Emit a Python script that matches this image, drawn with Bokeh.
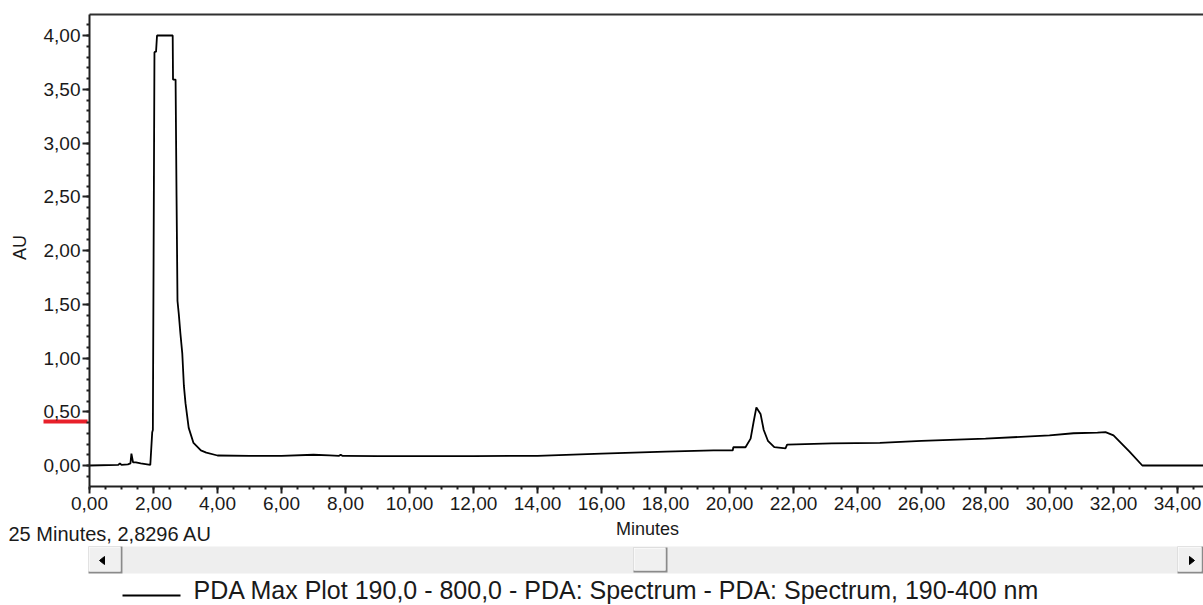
import math
from bokeh.plotting import figure
from bokeh.models import (Range1d, FixedTicker, CustomJSTickFormatter,
                          LinearAxis)
from bokeh.core.properties import value
from bokeh.embed import file_html
from bokeh.resources import INLINE

# PDA max-plot chromatogram: retention time (min) vs absorbance (AU)
time_min = [0.0, 0.9, 0.95, 1.0, 1.2, 1.28, 1.31, 1.36, 1.45, 1.6, 1.7, 1.9,
            1.96, 1.98, 2.03, 2.08, 2.11, 2.6, 2.61, 2.69, 2.72, 2.75, 2.79,
            2.84, 2.9, 2.95, 3.0, 3.1, 3.25, 3.48, 3.65, 4.0, 5.0, 6.0, 7.0,
            7.5, 7.8, 7.85, 7.9, 8.0, 9.0, 12.0, 14.0, 16.0, 18.0, 19.5, 20.1,
            20.12, 20.5, 20.66, 20.75, 20.84, 20.97, 21.07, 21.2, 21.4, 21.75,
            21.8, 23.2, 24.7, 26.0, 28.0, 30.0, 30.75, 31.5, 31.75, 32.0,
            32.5, 32.9, 33.5, 35.0]
absorbance = [0.0, 0.005, 0.02, 0.005, 0.01, 0.02, 0.11, 0.03, 0.03, 0.02,
              0.015, 0.005, 0.31, 0.33, 3.845, 3.85, 4.0, 4.0, 3.59, 3.59,
              2.5, 1.53, 1.41, 1.23, 1.04, 0.74, 0.58, 0.35, 0.21, 0.14,
              0.12, 0.093, 0.09, 0.09, 0.1, 0.095, 0.09, 0.1, 0.09, 0.09,
              0.088, 0.088, 0.09, 0.11, 0.13, 0.14, 0.14, 0.17, 0.17, 0.25,
              0.4, 0.54, 0.48, 0.33, 0.23, 0.17, 0.16, 0.195, 0.205, 0.21,
              0.23, 0.25, 0.28, 0.3, 0.305, 0.31, 0.28, 0.13, 0.0, 0.0, 0.0]

x_ticks = [0, 2, 4, 6, 8, 10, 12, 14, 16, 18, 20, 22, 24, 26, 28, 30, 32, 34]
y_ticks = [0.0, 0.5, 1.0, 1.5, 2.0, 2.5, 3.0, 3.5, 4.0]
x_view = (0.0, 34.81)
y_view = (-0.195, 4.195)
marker_level = 0.41
x_title = "Minutes"
y_title = "AU"
cursor_text = "25 Minutes, 2,8296 AU"
legend_text = "PDA Max Plot 190,0 - 800,0 - PDA: Spectrum - PDA: Spectrum, 190-400 nm"

FONT = "Liberation Sans"
INK = "#1a1a1a"
W, H = 1203, 605

# The whole page is one plotting frame; the chart area sits inside it.
# Page-pixel helpers for the window furniture around the chart.
PX0, PX_PER_MIN = 89.0, 32.0
PY0, PX_PER_AU = 465.0, 107.5


def gx(px):
    return (px - PX0) / PX_PER_MIN


def gy(py):
    return (PY0 - py) / PX_PER_AU


p = figure(width=W, height=H, output_backend="svg", toolbar_location=None,
           x_range=Range1d(gx(0), gx(W)), y_range=Range1d(gy(H), gy(0)),
           x_axis_location=None, y_axis_location=None,
           min_border=0, background_fill_color="white",
           border_fill_color="white", outline_line_color=None)
p.grid.visible = False

comma = CustomJSTickFormatter(code="return tick.toFixed(2).replace('.', ',');")

xa = LinearAxis(fixed_location=y_view[0], bounds=x_view,
                ticker=FixedTicker(ticks=x_ticks,
                                   minor_ticks=[i * 0.5 for i in range(0, 70)]),
                formatter=comma)
ya = LinearAxis(fixed_location=x_view[0], bounds=y_view,
                ticker=FixedTicker(ticks=y_ticks,
                                   minor_ticks=[round(-0.1 + i * 0.1, 2)
                                                for i in range(0, 43)]),
                formatter=comma)

for ax in (xa, ya):
    ax.axis_line_color = "#202020"
    ax.axis_line_width = 2
    ax.major_tick_line_color = "#202020"
    ax.minor_tick_line_color = "#202020"
    ax.major_tick_line_width = 2
    ax.minor_tick_line_width = 2
    ax.major_tick_in = 0
    ax.major_tick_out = 7
    ax.minor_tick_in = 0
    ax.minor_tick_out = 3
    ax.major_label_text_font = FONT
    ax.major_label_text_font_size = "19px"
    ax.major_label_text_color = INK

xa.major_label_standoff = 4
ya.major_label_standoff = 2
p.add_layout(xa, "below")
p.add_layout(ya, "left")

# top border of the chart area
p.line([x_view[0], x_view[1]], [y_view[1], y_view[1]], line_color="#303030",
       line_width=2)

# trace
p.line(time_min, absorbance, line_color="black", line_width=1.8)

# red level marker left of the AU axis
half = 2.0 / PX_PER_AU
p.quad(left=gx(43), right=gx(87), bottom=marker_level - half,
       top=marker_level + half, fill_color="#e8202a", line_color=None)

# axis titles
p.text(x=[gx(19)], y=[gy(247)], text=[y_title], angle=math.pi / 2,
       text_font=value(FONT), text_font_size="18px", text_color=INK,
       text_baseline="middle", text_align="center")
p.text(x=[gx(647)], y=[gy(528.5)], text=[x_title], text_font=value(FONT),
       text_font_size="18px", text_color=INK, text_baseline="middle",
       text_align="center")

# cursor readout
p.text(x=[gx(8)], y=[gy(533.5)], text=[cursor_text], text_font=value(FONT),
       text_font_size="20px", text_color=INK, text_baseline="middle",
       text_align="left")

# horizontal scroll bar
p.quad(left=gx(122), right=gx(1177), top=gy(546), bottom=gy(573),
       fill_color="#eeeeee", line_color=None)


def button(l, r, t, btm):
    p.quad(left=gx(l), right=gx(r), top=gy(t), bottom=gy(btm),
           fill_color="#8a8a8a", line_color=None)
    p.quad(left=gx(l), right=gx(r - 2), top=gy(t), bottom=gy(btm - 2),
           fill_color="#ffffff", line_color=None)
    p.quad(left=gx(l + 1), right=gx(r - 2), top=gy(t + 1), bottom=gy(btm - 2),
           fill_color="#f0f0f0", line_color=None)


button(88, 122, 546, 573)
button(1177, 1203, 546, 573)
button(633, 667, 547, 572)
p.patch([gx(99), gx(104), gx(104)], [gy(560), gy(556), gy(564)],
        fill_color="black", line_color="black")
p.patch([gx(1194), gx(1189), gx(1189)], [gy(560), gy(556), gy(564)],
        fill_color="black", line_color="black")

# legend
p.line([gx(122), gx(180)], [gy(595), gy(595)], line_color="black",
       line_width=1.8)
p.text(x=[gx(193)], y=[gy(589.5)], text=[legend_text], text_font=value(FONT),
       text_font_size="25px", text_color=INK, text_baseline="middle",
       text_align="left")

open("out.html", "w").write(file_html(p, INLINE))
